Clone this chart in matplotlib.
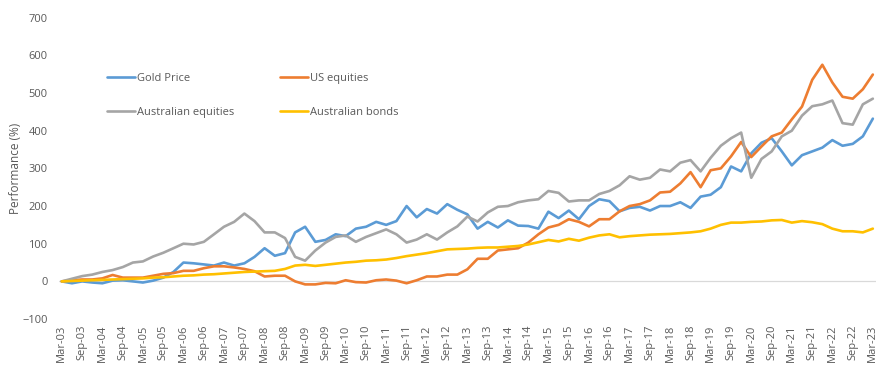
import pandas as pd
import numpy as np
import matplotlib
matplotlib.use('Agg')
import matplotlib.pyplot as plt

# ── Data (quarterly readings, % performance since Mar-03) ───────────
quarters = pd.date_range('2003-03-01', '2023-03-01', freq='QS-MAR')

gold_price = [0, -5, 0, -3, -5, 2, 3, 0, -3, 2, 10, 25, 50, 48, 45, 42, 50, 42, 48, 65,
              88, 68, 75, 130, 145, 105, 110, 125, 120, 140, 145, 158, 150, 160, 200, 170,
              192, 180, 205, 190, 178, 140, 158, 143, 162, 148, 147, 140, 185, 168, 188, 165,
              200, 218, 213, 186, 195, 198, 188, 200, 200, 210, 195, 225, 230, 250, 305, 292,
              340, 368, 380, 345, 308, 335, 345, 355, 375, 360, 365, 385, 432]

us_equities = [0, 3, 5, 5, 8, 17, 10, 10, 10, 15, 20, 22, 28, 28, 35, 40, 40, 37, 33, 27,
               13, 15, 15, 0, -8, -8, -4, -5, 3, -2, -3, 3, 5, 2, -5, 3,
               13, 13, 18, 18, 32, 60, 60, 82, 85, 88, 103, 125, 143, 150, 165, 158,
               146, 165, 165, 186, 200, 205, 215, 236, 238, 260, 290, 250, 295, 300, 332, 370,
               330, 358, 385, 395, 430, 464, 535, 575, 528, 490, 485, 510, 549]

aus_equities = [0, 7, 14, 18, 25, 30, 38, 50, 53, 66, 76, 88, 100, 98, 105, 125, 145, 158, 180, 160,
                130, 130, 115, 65, 55, 82, 103, 118, 122, 105, 118, 128, 138, 125, 103, 111,
                125, 111, 130, 146, 172, 159, 183, 198, 200, 210, 215, 218, 240, 235, 212, 215,
                215, 232, 240, 255, 279, 270, 275, 297, 292, 315, 322, 292, 328, 360, 380, 395,
                275, 325, 345, 385, 400, 440, 465, 470, 480, 420, 416, 470, 485]

aus_bonds = [0, 1, 2, 3, 4, 5, 6, 7, 8, 10, 11, 13, 15, 16, 18, 19, 21, 23, 25, 26,
             27, 28, 33, 42, 44, 41, 44, 47, 50, 52, 55, 56, 58, 62, 67, 71,
             75, 80, 85, 86, 87, 89, 90, 90, 92, 94, 98, 104, 110, 106, 113, 108,
             116, 122, 125, 117, 120, 122, 124, 125, 126, 128, 130, 133, 140, 150, 156, 156,
             158, 159, 162, 163, 156, 160, 157, 152, 140, 133, 133, 130, 140]

series_names = ['Gold Price', 'US equities', 'Australian equities', 'Australian bonds']
series_colors = ['#5B9BD5', '#ED7D31', '#A5A5A5', '#FFC000']

tick_dates = pd.date_range('2003-03-01', '2023-03-01', freq='6MS')
tick_labels = [d.strftime('%b-%y') for d in tick_dates]

# ── Plot ────────────────────────────────────────────────────────────
plt.rcParams['font.family'] = ['Open Sans', 'DejaVu Sans']
TXT = '#595959'

fig = plt.figure(figsize=(8.83, 3.68), dpi=100)
ax = fig.add_axes([0.0664, 0.133, 0.926, 0.819])

lines = []
for vals, name, col in zip([gold_price, us_equities, aus_equities, aus_bonds],
                           series_names, series_colors):
    ln, = ax.plot(quarters, vals, color=col, lw=1.9, label=name,
                  solid_joinstyle='round', solid_capstyle='round')
    lines.append(ln)

ax.axhline(0, color='#D9D9D9', lw=0.9, zorder=0)

ax.set_ylim(-100, 700)
ax.set_yticks(np.arange(-100, 701, 100))
ax.set_xlim(pd.Timestamp('2003-02-01'), pd.Timestamp('2023-04-01'))
ax.set_xticks(tick_dates)
ax.set_xticklabels(tick_labels, rotation=90)
ax.tick_params(axis='both', length=0, labelsize=8, colors=TXT)
ax.tick_params(axis='x', pad=4)
ax.tick_params(axis='y', pad=8)
for s in ax.spines.values():
    s.set_visible(False)

ax.set_ylabel('Performance (%)', fontsize=8.5, color=TXT)
ax.yaxis.set_label_coords(-0.045, 0.5)

leg_kw = dict(loc='upper left', frameon=False, fontsize=8, handlelength=2.5,
              handletextpad=0.15, labelspacing=2.05, labelcolor=TXT)
leg1 = ax.legend([lines[0], lines[2]], [series_names[0], series_names[2]],
                 bbox_to_anchor=(0.047, 0.85), **leg_kw)
ax.add_artist(leg1)
ax.legend([lines[1], lines[3]], [series_names[1], series_names[3]],
          bbox_to_anchor=(0.259, 0.85), **leg_kw)

plt.savefig('out.png', dpi=100, facecolor='white')
plt.close()
